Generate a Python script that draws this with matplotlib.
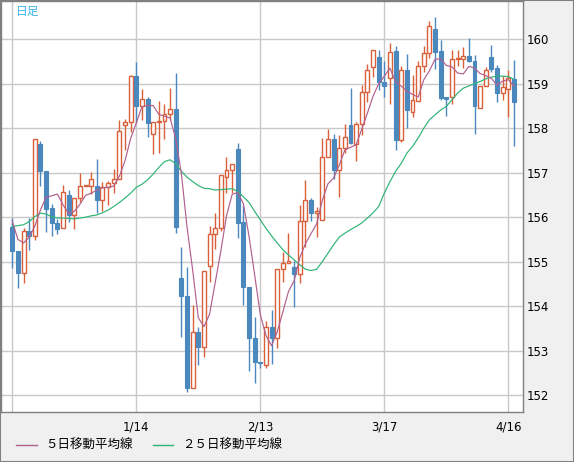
import matplotlib
matplotlib.use("Agg")
import matplotlib.pyplot as plt
from matplotlib.lines import Line2D
from matplotlib.patches import Rectangle
import numpy as np

# daily candles (index 0 = first candle)
opens = [155.79, 155.24, 154.74, 155.69, 155.57, 157.64, 157.04, 156.20, 155.87, 155.75,
         156.50, 156.04, 156.43, 156.70, 156.70, 156.70, 156.39, 156.67, 156.76, 156.85,
         158.07, 158.13, 159.18, 158.49, 158.65, 157.87, 158.13, 158.16, 158.31, 158.43,
         154.63, 154.23, 152.17, 153.42, 153.09, 154.91, 155.62, 155.75, 156.91, 157.06,
         157.53, 155.90, 154.43, 153.28, 152.74, 152.68, 153.53, 153.28, 154.84, 154.97,
         154.89, 154.72, 155.92, 156.39, 156.10, 155.94, 157.35, 157.76, 157.06, 157.55,
         158.07, 157.64, 158.09, 158.81, 159.37, 159.60, 159.05, 159.12, 159.74, 157.74,
         159.31, 158.37, 158.62, 159.40, 159.69, 160.23, 159.74, 158.70, 158.70, 159.55,
         159.55, 159.63, 159.51, 158.46, 158.96, 159.61, 159.36, 158.79, 158.88, 159.11]
highs = [155.98, 155.24, 155.75, 155.98, 157.75, 157.72, 157.04, 156.30, 155.96, 156.73,
         156.61, 156.43, 156.99, 156.70, 157.01, 157.31, 156.79, 156.82, 157.08, 158.19,
         158.21, 159.20, 159.48, 158.88, 158.70, 158.13, 158.62, 158.55, 158.90, 159.25,
         155.34, 154.88, 154.03, 153.54, 154.79, 155.81, 156.10, 156.94, 157.36, 157.19,
         157.66, 156.28, 154.43, 153.75, 152.74, 153.66, 153.92, 154.84, 155.21, 155.64,
         155.02, 156.28, 156.84, 156.44, 156.24, 157.78, 157.99, 157.87, 157.85, 158.09,
         158.90, 158.13, 158.97, 159.44, 159.75, 159.76, 159.51, 159.91, 159.85, 159.39,
         159.67, 159.20, 159.51, 159.85, 160.41, 160.49, 159.99, 158.70, 159.76, 159.76,
         159.82, 160.02, 159.65, 158.95, 159.37, 159.87, 159.42, 159.18, 159.31, 159.54]
lows = [154.85, 154.40, 154.52, 155.27, 155.48, 156.71, 155.66, 155.57, 155.62, 155.75,
        155.90, 155.74, 156.35, 156.70, 156.52, 156.09, 156.15, 156.28, 156.54, 156.85,
        157.51, 157.92, 158.11, 158.19, 157.81, 157.42, 157.45, 157.75, 158.19, 155.64,
        153.30, 152.08, 152.17, 152.68, 152.85, 154.55, 155.28, 155.69, 156.55, 156.54,
        155.53, 154.03, 152.55, 152.27, 152.61, 152.61, 152.70, 153.07, 154.55, 154.97,
        153.98, 154.53, 155.34, 155.92, 155.55, 155.94, 157.35, 156.85, 156.45, 157.44,
        157.64, 157.27, 157.85, 158.58, 159.16, 158.85, 158.70, 158.55, 157.50, 157.70,
        158.01, 158.26, 158.62, 159.27, 159.57, 159.33, 158.64, 158.28, 158.55, 159.39,
        159.35, 159.48, 157.87, 158.46, 158.96, 159.27, 158.60, 158.64, 158.26, 157.59]
closes = [155.23, 154.74, 155.69, 155.57, 157.75, 157.03, 156.19, 155.87, 155.74, 156.56,
          156.04, 156.43, 156.70, 156.70, 156.85, 156.39, 156.67, 156.76, 156.85, 157.94,
          158.13, 159.18, 158.49, 158.65, 158.11, 158.13, 158.16, 158.31, 158.43, 155.79,
          154.22, 152.17, 153.42, 153.09, 154.79, 155.62, 155.75, 156.94, 157.06, 157.19,
          155.88, 154.43, 153.28, 152.74, 152.72, 153.53, 153.28, 154.84, 154.97, 155.02,
          154.72, 155.92, 156.39, 156.10, 156.14, 157.35, 157.76, 157.06, 157.55, 157.81,
          157.66, 158.09, 158.81, 159.31, 159.75, 159.03, 158.96, 159.71, 157.74, 159.31,
          158.41, 158.64, 159.40, 159.69, 160.30, 159.72, 158.69, 158.66, 159.55, 159.57,
          159.63, 159.52, 158.49, 158.95, 159.31, 159.33, 158.79, 158.92, 159.12, 158.58]

ma5 = [155.91, 155.50, 155.42, 155.55, 155.80, 156.16, 156.45, 156.48, 156.52, 156.28,
       156.08, 156.13, 156.29, 156.49, 156.54, 156.61, 156.66, 156.67, 156.70, 156.92,
       157.27, 157.77, 158.12, 158.48, 158.51, 158.51, 158.31, 158.27, 158.23, 157.76,
       156.98, 155.78, 154.81, 153.74, 153.54, 153.82, 154.53, 155.24, 156.03, 156.51,
       156.56, 156.30, 155.57, 154.70, 153.81, 153.34, 153.11, 153.42, 153.87, 154.33,
       154.57, 155.09, 155.40, 155.63, 155.85, 156.38, 156.75, 156.88, 157.17, 157.51,
       157.57, 157.63, 157.98, 158.34, 158.72, 159.00, 159.17, 159.35, 159.04, 158.95,
       158.83, 158.76, 158.70, 159.09, 159.29, 159.55, 159.56, 159.41, 159.38, 159.24,
       159.22, 159.39, 159.35, 159.23, 159.18, 159.12, 158.97, 159.06, 159.09, 158.95]
ma25 = [155.79, 155.81, 155.83, 155.90, 156.01, 156.09, 156.07, 156.01, 155.98, 155.98,
        155.97, 155.96, 155.98, 156.00, 156.03, 156.05, 156.10, 156.16, 156.24, 156.33,
        156.43, 156.54, 156.67, 156.74, 156.84, 156.97, 157.12, 157.25, 157.29, 157.20,
        157.03, 156.90, 156.80, 156.71, 156.65, 156.64, 156.61, 156.62, 156.63, 156.64,
        156.58, 156.46, 156.33, 156.13, 155.94, 155.75, 155.58, 155.42, 155.27, 155.15,
        155.04, 154.93, 154.83, 154.80, 154.83, 155.00, 155.19, 155.38, 155.55, 155.64,
        155.72, 155.79, 155.87, 155.98, 156.10, 156.24, 156.54, 156.80, 157.03, 157.21,
        157.44, 157.59, 157.78, 158.00, 158.19, 158.30, 158.41, 158.49, 158.64, 158.79,
        158.90, 158.95, 159.00, 159.05, 159.11, 159.15, 159.17, 159.17, 159.16, 159.10]

tick_pos = [22, 44, 66, 88]
tick_labels = ["1/14", "2/13", "3/17", "4/16"]
grid_x = [0, 22, 44, 66, 88]
yticks = [152, 153, 154, 155, 156, 157, 158, 159, 160]

UP = "#d9603b"
DOWN = "#4a88bd"
MA5_C = "#b2608e"
MA25_C = "#2db374"
GRID = "#c8c8c8"

plt.rcParams['font.family'] = ['DejaVu Sans']

fig = plt.figure(figsize=(5.74, 4.62), dpi=100, facecolor="#f0f0f0")
ax = fig.add_axes([1 / 574, 1 - 412 / 462, 522 / 574, 411 / 462])
ax.set_facecolor("white")

x = np.arange(len(closes))
o = np.array(opens); c = np.array(closes)
h = np.array(highs); l = np.array(lows)
up = c >= o

for gx in grid_x:
    ax.axvline(gx, color=GRID, lw=1.0, zorder=0)
for gy in yticks:
    ax.axhline(gy, color=GRID, lw=1.0, zorder=0)

w = 0.7
ax.vlines(x[up], l[up], h[up], color=UP, lw=1, zorder=2)
ax.vlines(x[~up], l[~up], h[~up], color=DOWN, lw=1, zorder=2)
body = np.maximum(np.abs(c - o), 0.015)
bottom = np.minimum(o, c)
ax.bar(x[up], body[up], w, bottom=bottom[up], facecolor="white", edgecolor=UP, lw=1, zorder=3)
ax.bar(x[~up], body[~up], w, bottom=bottom[~up], facecolor=DOWN, edgecolor=DOWN, lw=0.8, zorder=3)

ax.plot(x, ma25, color=MA25_C, lw=0.85, zorder=4)
ax.plot(x, ma5, color=MA5_C, lw=0.85, zorder=4)

ax.set_xlim(-2.0, 90.6)
ax.set_ylim(151.62, 160.86)
ax.yaxis.tick_right()
ax.set_yticks(yticks)
ax.set_yticklabels([str(v) for v in yticks], fontsize=8.5)
ax.set_xticks(tick_pos)
ax.set_xticklabels(tick_labels, fontsize=8.5)
ax.tick_params(length=0, pad=3)
ax.tick_params(axis='x', pad=6)
for s in ax.spines.values():
    s.set_color("#808080")
    s.set_linewidth(1)

fig.text(16 / 574, 1 - 11 / 462, "日足", color="#3ab4e8", fontsize=8.5,
         family=['Noto Sans CJK JP', 'DejaVu Sans'], va='center', ha='left')

ly = 1 - 445 / 462
fig.add_artist(Line2D([16 / 574, 37 / 574], [ly, ly], color=MA5_C, lw=1))
fig.text(45 / 574, ly, "５日移動平均線", fontsize=9, va='center', ha='left',
         family=['Noto Sans CJK JP', 'DejaVu Sans'])
fig.add_artist(Line2D([153 / 574, 173 / 574], [ly, ly], color=MA25_C, lw=1))
fig.text(182 / 574, ly, "２５日移動平均線", fontsize=9, va='center', ha='left',
         family=['Noto Sans CJK JP', 'DejaVu Sans'])

fig.add_artist(Rectangle((0, 0), 1, 1, transform=fig.transFigure, fill=False,
                         edgecolor="#808080", lw=1.5))

fig.savefig("out.png", dpi=100, facecolor=fig.get_facecolor())
